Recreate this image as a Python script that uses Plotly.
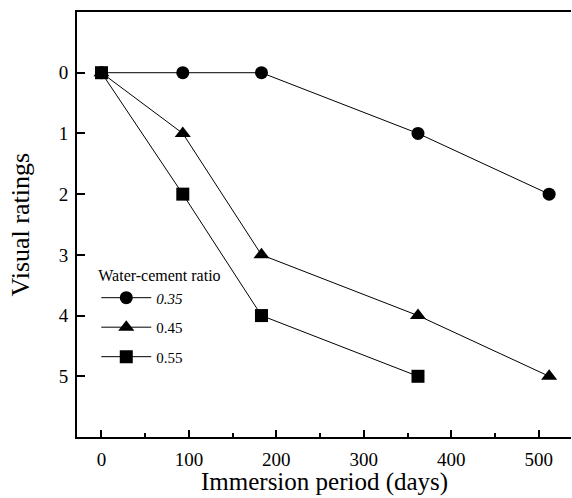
import plotly.graph_objects as go

days_035 = [0, 93, 183, 362, 512]
rating_035 = [0, 0, 0, 1, 2]
days_045 = [0, 93, 183, 362, 512]
rating_045 = [0, 1, 3, 4, 5]
days_055 = [0, 93, 183, 362]
rating_055 = [0, 2, 4, 5]

series = [
    ("<i>0.35</i>", days_035, rating_035, "circle"),
    ("0.45", days_045, rating_045, "triangle-up"),
    ("0.55", days_055, rating_055, "square"),
]

FONT = "Liberation Serif"
fig = go.Figure()
for i, (name, x, y, sym) in enumerate(series):
    fig.add_trace(go.Scatter(
        x=x, y=y, name=name, mode="lines+markers",
        line=dict(color="black", width=1),
        marker=dict(symbol=sym, size=13 if sym != "triangle-up" else 14, color="black"),
        legendgroup=str(i),
    ))

fig.update_layout(
    width=572, height=498,
    margin=dict(l=77, r=1, t=12, b=61),
    plot_bgcolor="white", paper_bgcolor="white",
    font=dict(family=FONT, color="black", size=18),
    showlegend=True,
    legend=dict(
        x=0.039, y=0.415, xanchor="left", yanchor="top",
        title=dict(text="Water-cement ratio", font=dict(size=16)),
        font=dict(size=15), itemwidth=50, tracegroupgap=7,
        bgcolor="rgba(0,0,0,0)",
    ),
    xaxis=dict(
        range=[-28, 537], tickvals=[0, 100, 200, 300, 400, 500],
        ticks="inside", ticklen=7, tickwidth=1.5, tickcolor="black",
        minor=dict(tickvals=[50, 150, 250, 350, 450], ticks="inside", ticklen=4, tickcolor="black", tickwidth=1.5),
        showline=True, linecolor="black", linewidth=2, mirror=True,
        showgrid=False, zeroline=False,
        tickfont=dict(size=19), ticklabelstandoff=4,
    ),
    yaxis=dict(
        range=[6, -1], tickvals=[0, 1, 2, 3, 4, 5],
        ticks="inside", ticklen=8, tickwidth=1.5, tickcolor="black",
        showline=True, linecolor="black", linewidth=2,
        showgrid=False, zeroline=False,
        tickfont=dict(size=19), ticklabelstandoff=3,
    ),
    annotations=[
        dict(text="Immersion period (days)", xref="paper", yref="paper",
             x=0.502, y=0, yshift=-45, xanchor="center", yanchor="middle",
             showarrow=False, font=dict(size=25)),
        dict(text="Visual ratings", xref="paper", yref="paper",
             x=0, y=0.5, xshift=-57, xanchor="center", yanchor="middle",
             textangle=-90, showarrow=False, font=dict(size=26)),
    ],
)

fig.write_html("out.html")
